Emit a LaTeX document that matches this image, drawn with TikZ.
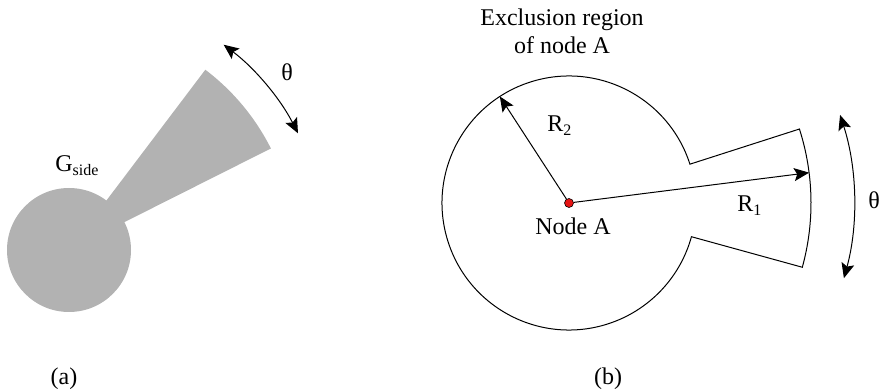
\documentclass[tikz,border=0pt]{standalone}
\usepackage{fontspec}
\setmainfont{Liberation Serif}
\usetikzlibrary{arrows.meta}
\definecolor{beamgray}{RGB}{178,178,178}
\definecolor{dotred}{RGB}{230,20,20}

\begin{document}
\begin{tikzpicture}[
  x=0.5pt, y=0.5pt,
  lbl/.style={font=\fontsize{12}{14}\selectfont, inner sep=0pt},
  outline/.style={line width=0.5pt},
  dot/.style={draw=black, line width=0.3pt, fill=dotred, circle, inner sep=0pt, minimum size=4.5pt},
  >={Stealth[length=7.5pt,width=6.5pt,inset=1.5pt]},
]
\useasboundingbox (0,0) rectangle (881,390);
% ---- LEFT: grey side lobe pattern ----
\coordinate (ca) at (69,140);
\fill[beamgray] (ca) circle (62);
\fill[beamgray] (ca) -- ++(26.7:226) arc (26.7:52.9:226) -- cycle;
\draw[outline, <->] (ca) ++(27:257) arc (27:53:257);
\node[lbl] (thetaa) at (287,318) {θ};
\node[lbl, anchor=base west] (gside) at (55,218) {G\textsubscript{side}};
\node[lbl, anchor=base] (capa) at (64,6) {(a)};

% ---- RIGHT: exclusion region of node A ----
\coordinate (cb) at (569,187);
\draw[outline] (cb) ++(17.8:127) arc (17.8:344.6:127)
  -- ([shift={(-15.4:242)}]cb) arc (-15.4:17.8:242) -- cycle;
\node[dot] (nodeA) at (cb) {};
\path (cb) ++(123:127) coordinate (rtwotip);
\path (cb) ++(7.2:242) coordinate (ronetip);
\draw[outline, ->] (nodeA) -- (rtwotip);
\draw[outline, ->] (nodeA) -- (ronetip);
\draw[outline, <->] (cb) ++(-15.3:285) arc (-15.3:18:285);
\node[lbl, align=center] (title) at (562,359) {Exclusion region\\of node A};
\node[lbl, anchor=base west] (rtwo) at (547,258) {R\textsubscript{2}};
\node[lbl, anchor=base west] (rone) at (737,178) {R\textsubscript{1}};
\node[lbl, anchor=base] (alabel) at (573,155) {Node A};
\node[lbl] (thetab) at (874,190) {θ};
\node[lbl, anchor=base] (capb) at (608,6) {(b)};
\end{tikzpicture}
\end{document}
